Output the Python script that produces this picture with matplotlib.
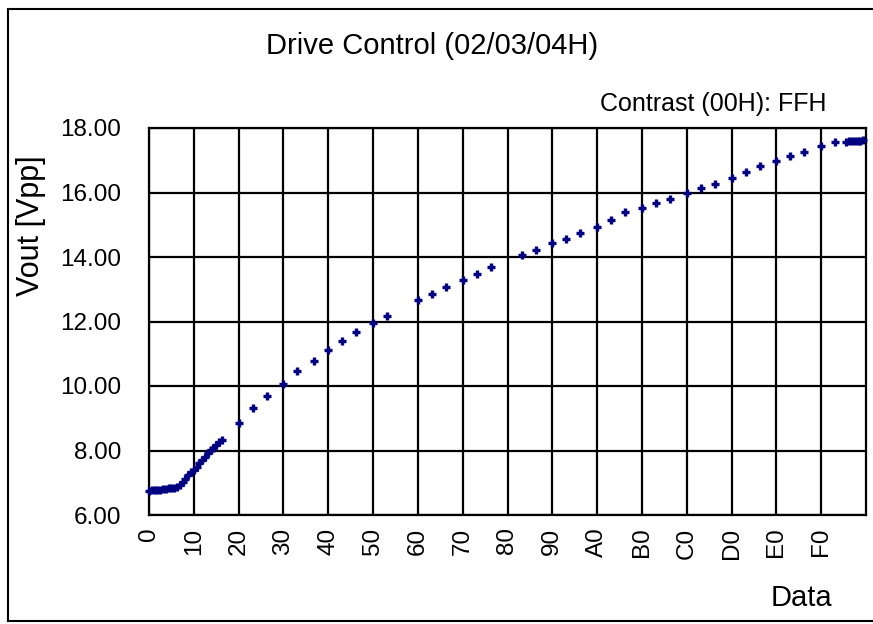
import matplotlib
matplotlib.use("Agg")
import matplotlib.pyplot as plt
from matplotlib.lines import Line2D

plt.rcParams['font.family'] = ['Liberation Sans', 'DejaVu Sans']

# ---- data ----
data_x = [0, 1, 2, 3, 4, 5, 6, 7, 8, 9, 10, 11, 12, 13, 14, 15, 16, 17, 18, 19,
          20, 21, 22, 23, 24, 25, 26,
          32, 37, 42, 48, 53, 59, 64, 69, 74, 80, 85, 96, 101, 106, 112, 117, 122,
          133, 138, 144, 149, 154, 160, 165, 170, 176, 181, 186, 192, 197, 202,
          208, 213, 218, 224, 229, 234, 240, 245,
          249, 250, 251, 252, 253, 254, 255]
vout = [6.75, 6.76, 6.77, 6.78, 6.79, 6.80, 6.82, 6.83, 6.84, 6.85, 6.87, 6.93,
        7.03, 7.13, 7.23, 7.32, 7.41, 7.50, 7.60, 7.70, 7.80, 7.91, 8.01, 8.09,
        8.17, 8.26, 8.34,
        8.85, 9.32, 9.69, 10.06, 10.47, 10.78, 11.12, 11.40, 11.67, 11.95, 12.17,
        12.66, 12.85, 13.06, 13.29, 13.47, 13.69,
        14.07, 14.23, 14.43, 14.57, 14.73, 14.92, 15.15, 15.38, 15.51, 15.66,
        15.79, 16.00, 16.13, 16.27, 16.46, 16.65, 16.82, 16.98, 17.13, 17.27,
        17.44, 17.57,
        17.58, 17.59, 17.60, 17.60, 17.61, 17.61, 17.62]
x_ticks = [0, 16, 32, 48, 64, 80, 96, 112, 128, 144, 160, 176, 192, 208, 224, 240]
x_tick_labels = ['0', '10', '20', '30', '40', '50', '60', '70', '80', '90',
                 'A0', 'B0', 'C0', 'D0', 'E0', 'F0']
y_ticks = [6, 8, 10, 12, 14, 16, 18]
y_tick_labels = ['6.00', '8.00', '10.00', '12.00', '14.00', '16.00', '18.00']

title = 'Drive Control (02/03/04H)'
subtitle = 'Contrast (00H): FFH'

W, H = 873, 624
fig = plt.figure(figsize=(W / 100, H / 100), dpi=100)
fig.patch.set_facecolor('white')

# outer frame
for (xs, ys) in [([8, 8], [9, 621]), ([8, 880], [9, 9]), ([8, 880], [621, 621])]:
    fig.add_artist(Line2D([x / W for x in xs], [1 - y / H for y in ys],
                          color='black', lw=1.5, transform=fig.transFigure))

ax = fig.add_axes([149 / W, 1 - 515 / H, (866 - 149) / W, (515 - 128) / H])
ax.set_xlim(0, 256)
ax.set_ylim(6, 18)
ax.set_xticks(x_ticks)
ax.set_xticklabels(x_tick_labels, rotation=90, fontsize=17.5)
ax.set_yticks(y_ticks)
ax.set_yticklabels(y_tick_labels, fontsize=17.5)
ax.tick_params(length=0)
ax.tick_params(axis='y', pad=20)
ax.tick_params(axis='x', pad=9)
ax.grid(True, color='black', lw=1.6)
ax.set_axisbelow(True)
for s in ax.spines.values():
    s.set_color('black')
    s.set_linewidth(1.6)

ax.plot(data_x, vout, linestyle='none', marker='+', ms=6, mew=2.4,
        color='#000080', clip_on=False, zorder=3)

fig.text(432 / W, 1 - 46 / H, title, ha='center', va='center', fontsize=21)
fig.text(826 / W, 1 - 104 / H, subtitle, ha='right', va='center', fontsize=18)
fig.text(801 / W, 1 - 598 / H, 'Data', ha='center', va='center', fontsize=21)
fig.text(31 / W, 1 - 226 / H, 'Vout [Vpp]', ha='center', va='center',
         rotation=90, fontsize=22)

fig.savefig('out.png', dpi=100, facecolor='white')
